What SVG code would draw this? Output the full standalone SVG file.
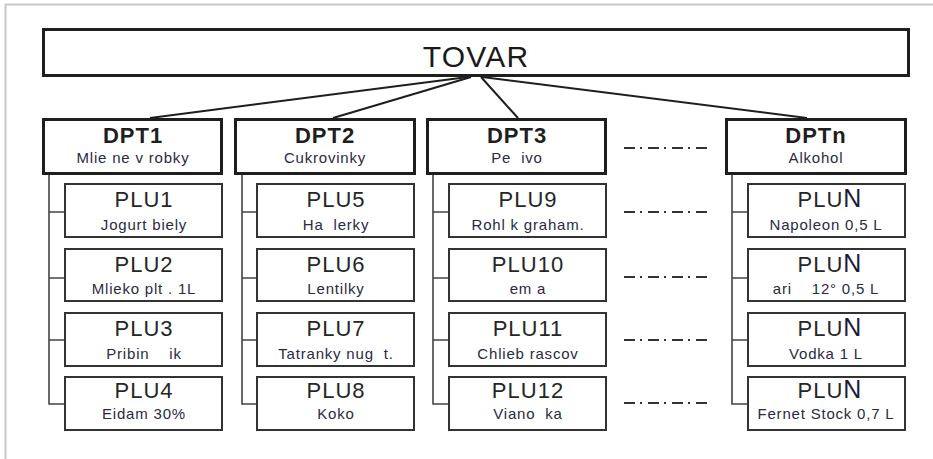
<svg xmlns="http://www.w3.org/2000/svg" width="933" height="459" viewBox="0 0 933 459">
<style>
.frame{stroke:#c8c8c8;stroke-width:2;fill:none}
.top{fill:#fff;stroke:#1e1e1e;stroke-width:3}
.dpt{fill:#fff;stroke:#1e1e1e;stroke-width:3}
.plu{fill:#fff;stroke:#333;stroke-width:2}
.tree{stroke:#444;stroke-width:1.6;fill:none}
.edge{stroke:#1e1e1e;stroke-width:2;fill:none}
.dd{stroke:#333;stroke-width:2;fill:none;stroke-dasharray:11 5 2 6}
text{font-family:"Liberation Sans",Arial,sans-serif;text-anchor:middle;white-space:pre}
.tt{font-size:30px;fill:#1a1a1a;letter-spacing:1.2px}
.dh{font-size:22px;font-weight:bold;fill:#1e1e1e;letter-spacing:1px}
.ph{font-size:22px;fill:#262626;letter-spacing:1px}
.sub{font-size:15px;fill:#2a2a44;letter-spacing:0.8px}
.n{font-size:25px;fill:#1c1c3c}
</style>
<rect width="933" height="459" fill="#fff"/>
<path class="frame" d="M5.5 459V4.5H933"/>

<g id="connectors">
<line class="edge" x1="468" y1="77" x2="150" y2="118"/>
<line class="edge" x1="471" y1="77" x2="333" y2="118"/>
<line class="edge" x1="481" y1="77" x2="518" y2="118"/>
<line class="edge" x1="482" y1="77" x2="807" y2="118"/>
<path class="tree" d="M49 175V404H64M49 212H64M49 278H64M49 340H64"/>
<path class="tree" d="M242 175V404H256M242 212H256M242 278H256M242 340H256"/>
<path class="tree" d="M433 175V404H448M433 212H448M433 278H448M433 340H448"/>
<path class="tree" d="M732 175V404H747M732 212H747M732 278H747M732 340H747"/>
<line class="dd" x1="624" y1="148" x2="708" y2="148"/>
<line class="dd" x1="624" y1="212" x2="708" y2="212"/>
<line class="dd" x1="624" y1="277" x2="708" y2="277"/>
<line class="dd" x1="624" y1="340" x2="708" y2="340"/>
<line class="dd" x1="624" y1="403" x2="708" y2="403"/>
</g>

<g id="tovar">
<rect class="top" x="43.5" y="29.5" width="865" height="46"/>
<text class="tt" x="476" y="67">TOVAR</text>
</g>

<g id="dpt1">
<rect class="dpt" x="43.5" y="119.5" width="178" height="54"/>
<text class="dh" x="133" y="143">DPT1</text>
<text class="sub" x="133" y="163">Mlie ne v robky</text>
</g>
<g id="dpt2">
<rect class="dpt" x="235.5" y="119.5" width="179" height="54"/>
<text class="dh" x="325" y="143">DPT2</text>
<text class="sub" x="325" y="163">Cukrovinky</text>
</g>
<g id="dpt3">
<rect class="dpt" x="427.5" y="119.5" width="178" height="54"/>
<text class="dh" x="517" y="143">DPT3</text>
<text class="sub" x="517" y="163">Pe  ivo</text>
</g>
<g id="dptn">
<rect class="dpt" x="726.5" y="119.5" width="179" height="54"/>
<text class="dh" x="816" y="143">DPTn</text>
<text class="sub" x="816" y="163">Alkohol</text>
</g>

<g id="plu1"><rect class="plu" x="65" y="184" width="157" height="53"/><text class="ph" x="144" y="207">PLU1</text><text class="sub" x="144" y="230">Jogurt biely</text></g>
<g id="plu2"><rect class="plu" x="65" y="249" width="157" height="52"/><text class="ph" x="144" y="272">PLU2</text><text class="sub" x="144" y="294">Mlieko plt . 1L</text></g>
<g id="plu3"><rect class="plu" x="65" y="313" width="157" height="53"/><text class="ph" x="144" y="336">PLU3</text><text class="sub" x="144" y="359">Pribin    ik</text></g>
<g id="plu4"><rect class="plu" x="65" y="377" width="157" height="53"/><text class="ph" x="144" y="398">PLU4</text><text class="sub" x="144" y="419">Eidam 30%</text></g>

<g id="plu5"><rect class="plu" x="257" y="184" width="157" height="53"/><text class="ph" x="336" y="207">PLU5</text><text class="sub" x="336" y="230">Ha  lerky</text></g>
<g id="plu6"><rect class="plu" x="257" y="249" width="157" height="52"/><text class="ph" x="336" y="272">PLU6</text><text class="sub" x="336" y="294">Lentilky</text></g>
<g id="plu7"><rect class="plu" x="257" y="313" width="157" height="53"/><text class="ph" x="336" y="336">PLU7</text><text class="sub" x="336" y="359">Tatranky nug  t.</text></g>
<g id="plu8"><rect class="plu" x="257" y="377" width="157" height="53"/><text class="ph" x="336" y="398">PLU8</text><text class="sub" x="336" y="419">Koko</text></g>

<g id="plu9"><rect class="plu" x="449" y="184" width="157" height="53"/><text class="ph" x="528" y="207">PLU9</text><text class="sub" x="528" y="230">Rohl k graham.</text></g>
<g id="plu10"><rect class="plu" x="449" y="249" width="157" height="52"/><text class="ph" x="528" y="272">PLU10</text><text class="sub" x="528" y="294">em a</text></g>
<g id="plu11"><rect class="plu" x="449" y="313" width="157" height="53"/><text class="ph" x="528" y="336">PLU11</text><text class="sub" x="528" y="359">Chlieb rascov</text></g>
<g id="plu12"><rect class="plu" x="449" y="377" width="157" height="53"/><text class="ph" x="528" y="398">PLU12</text><text class="sub" x="528" y="419">Viano  ka</text></g>

<g id="plun1"><rect class="plu" x="748" y="184" width="157" height="53"/><text class="ph" x="830" y="207">PLU<tspan class="n">N</tspan></text><text class="sub" x="826" y="230">Napoleon 0,5 L</text></g>
<g id="plun2"><rect class="plu" x="748" y="249" width="157" height="52"/><text class="ph" x="830" y="272">PLU<tspan class="n">N</tspan></text><text class="sub" x="826" y="294">ari    12° 0,5 L</text></g>
<g id="plun3"><rect class="plu" x="748" y="313" width="157" height="53"/><text class="ph" x="830" y="336">PLU<tspan class="n">N</tspan></text><text class="sub" x="826" y="359">Vodka 1 L</text></g>
<g id="plun4"><rect class="plu" x="748" y="377" width="157" height="53"/><text class="ph" x="830" y="398">PLU<tspan class="n">N</tspan></text><text class="sub" x="826" y="419">Fernet Stock 0,7 L</text></g>
</svg>
